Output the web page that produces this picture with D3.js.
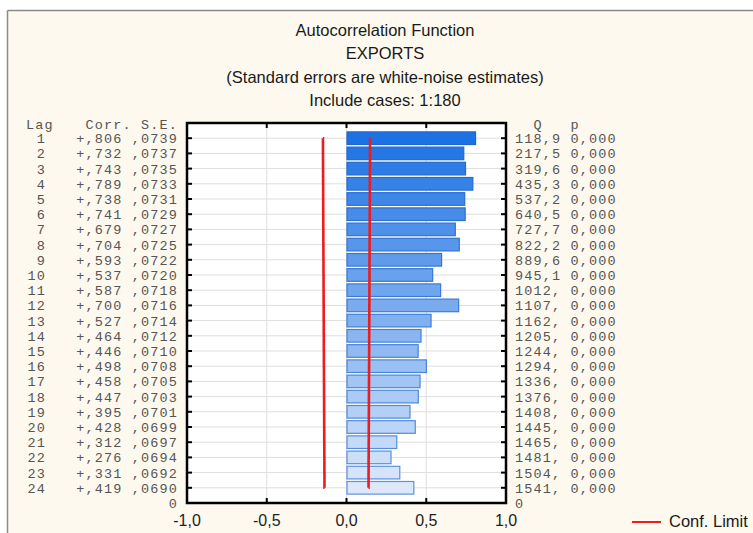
<!DOCTYPE html>
<html><head><meta charset="utf-8">
<script src="https://cdn.jsdelivr.net/npm/d3@7"></script>
<style>
html,body{margin:0;padding:0;background:#fff;}
svg{display:block;}
</style></head>
<body>
<svg id="c" width="753" height="533"></svg>
<script>
const titles = ["Autocorrelation Function","EXPORTS","(Standard errors are white-noise estimates)","Include cases: 1:180"];
const lags = [1,2,3,4,5,6,7,8,9,10,11,12,13,14,15,16,17,18,19,20,21,22,23,24];
const corr = [0.806,0.732,0.743,0.789,0.738,0.741,0.679,0.704,0.593,0.537,0.587,0.700,0.527,0.464,0.446,0.498,0.458,0.447,0.395,0.428,0.312,0.276,0.331,0.419];
const corrLabels = ["+,806","+,732","+,743","+,789","+,738","+,741","+,679","+,704","+,593","+,537","+,587","+,700","+,527","+,464","+,446","+,498","+,458","+,447","+,395","+,428","+,312","+,276","+,331","+,419"];
const se = [0.0739,0.0737,0.0735,0.0733,0.0731,0.0729,0.0727,0.0725,0.0722,0.0720,0.0718,0.0716,0.0714,0.0712,0.0710,0.0708,0.0705,0.0703,0.0701,0.0699,0.0697,0.0694,0.0692,0.0690];
const seLabels = [",0739",",0737",",0735",",0733",",0731",",0729",",0727",",0725",",0722",",0720",",0718",",0716",",0714",",0712",",0710",",0708",",0705",",0703",",0701",",0699",",0697",",0694",",0692",",0690"];
const qLabels = ["118,9","217,5","319,6","435,3","537,2","640,5","727,7","822,2","889,6","945,1","1012,","1107,","1162,","1205,","1244,","1294,","1336,","1376,","1408,","1445,","1465,","1481,","1504,","1541,"];
const pLabels = ["0,000","0,000","0,000","0,000","0,000","0,000","0,000","0,000","0,000","0,000","0,000","0,000","0,000","0,000","0,000","0,000","0,000","0,000","0,000","0,000","0,000","0,000","0,000","0,000"];
const xTicks = [-1.0,-0.5,0.0,0.5,1.0];
const xTickLabels = ["-1,0","-0,5","0,0","0,5","1,0"];
const legendLabel = "Conf. Limit";

const svg = d3.select("#c");
const W = 753, H = 533;
const mono = "'Liberation Mono','Courier New',monospace";
const sans = "'Liberation Sans',Arial,sans-serif";

// panel background & border
svg.append("rect").attr("x",0).attr("y",0).attr("width",W).attr("height",H).attr("fill","#ffffff");
svg.append("rect").attr("x",8).attr("y",10).attr("width",W).attr("height",H).attr("fill","#fdf9ee");
svg.append("line").attr("x1",7.5).attr("x2",W).attr("y1",10.5).attr("y2",10.5).attr("stroke","#8a8a8a").attr("stroke-width",1.5);
svg.append("line").attr("x1",7.5).attr("x2",7.5).attr("y1",10.5).attr("y2",H).attr("stroke","#8a8a8a").attr("stroke-width",1.5);

// titles
const titleY = [36,59,83,106];
svg.selectAll("text.title").data(titles).join("text")
  .attr("class","title").attr("x",385).attr("y",(d,i)=>titleY[i])
  .attr("text-anchor","middle").attr("font-family",sans).attr("font-size",16.5)
  .attr("fill","#1a1a1a").text(d=>d);

// scales
const x = d3.scaleLinear().domain([-1,1]).range([187,506]);
const y = d3.scaleLinear().domain([0,25]).range([503,123]);
const pos = l => y(25 - l);
const rowH = (y(0)-y(1));

// plot area
svg.append("rect").attr("x",x(-1)).attr("y",y(25)).attr("width",x(1)-x(-1)).attr("height",y(0)-y(25)).attr("fill","#ffffff");

// gridlines
svg.append("g").selectAll("line").data(lags).join("line")
  .attr("x1",x(-1)).attr("x2",x(1)).attr("y1",d=>pos(d)).attr("y2",d=>pos(d))
  .attr("stroke","#dedede").attr("stroke-width",1);
svg.append("g").selectAll("line").data([-0.5,0,0.5]).join("line")
  .attr("x1",d=>x(d)).attr("x2",d=>x(d)).attr("y1",y(25)).attr("y2",y(0))
  .attr("stroke","#dedede").attr("stroke-width",1);

// bars
const color = d3.interpolateRgb("#1d72e3","#dde9fb");
const bh = rowH*0.83;
svg.append("g").selectAll("rect").data(lags).join("rect")
  .attr("x",(d,i)=>Math.min(x(0),x(corr[i]))+0.5)
  .attr("y",d=>pos(d)-bh/2)
  .attr("width",(d,i)=>Math.abs(x(corr[i])-x(0)))
  .attr("height",bh)
  .attr("fill",(d,i)=>color(i/23))
  .attr("stroke",(d,i)=>d3.interpolateRgb("#1f66cc","#5d94df")(i/23))
  .attr("stroke-width",1.2);

// confidence limits
const stepLine = d3.line().curve(d3.curveStep);
[1,-1].forEach(s=>{
  svg.append("path")
    .attr("d",stepLine(lags.map((l,i)=>[x(s*2*se[i]),pos(l)])))
    .attr("fill","none").attr("stroke","#ee1c1c").attr("stroke-width",2.6);
});

// axes frame
const frame = svg.append("g").attr("stroke","#000").attr("fill","none");
frame.append("rect").attr("x",x(-1)).attr("y",y(25)).attr("width",x(1)-x(-1)).attr("height",y(0)-y(25)).attr("stroke-width",2.5);
// ticks
const tk = 5;
svg.append("g").selectAll("line").data(lags).join("line")
  .attr("x1",x(-1)).attr("x2",x(-1)+tk).attr("y1",d=>pos(d)).attr("y2",d=>pos(d)).attr("stroke","#000").attr("stroke-width",2);
svg.append("g").selectAll("line").data(lags).join("line")
  .attr("x1",x(1)).attr("x2",x(1)-tk).attr("y1",d=>pos(d)).attr("y2",d=>pos(d)).attr("stroke","#000").attr("stroke-width",2);
svg.append("g").selectAll("line").data([-0.5,0,0.5]).join("line")
  .attr("x1",d=>x(d)).attr("x2",d=>x(d)).attr("y1",y(25)).attr("y2",y(25)+tk).attr("stroke","#000").attr("stroke-width",2);
svg.append("g").selectAll("line").data([-0.5,0,0.5]).join("line")
  .attr("x1",d=>x(d)).attr("x2",d=>x(d)).attr("y1",y(0)).attr("y2",y(0)-tk).attr("stroke","#000").attr("stroke-width",2);

// x tick labels
svg.append("g").selectAll("text").data(xTicks).join("text")
  .attr("x",d=>x(d)).attr("y",526).attr("text-anchor","middle")
  .attr("font-family",sans).attr("font-size",16).attr("fill","#222")
  .text((d,i)=>xTickLabels[i]);

// tables
const tcol = "#555";
const fs = 13.5;
const ls = 9.25 - fs*0.6;
const left = svg.append("g").attr("font-family",mono).attr("font-size",fs).attr("fill",tcol).attr("letter-spacing",ls);
left.append("text").attr("x",26).attr("y",129).text("Lag");
left.append("text").attr("x",178).attr("y",129).attr("text-anchor","end").text("Corr. S.E.");
left.selectAll("text.lag").data(lags).join("text").attr("class","lag")
  .attr("x",46).attr("y",d=>pos(d)+5).attr("text-anchor","end").text(d=>d);
left.selectAll("text.cs").data(lags).join("text").attr("class","cs")
  .attr("x",178).attr("y",d=>pos(d)+5).attr("text-anchor","end")
  .text((d,i)=>corrLabels[i]+" "+seLabels[i]);
left.append("text").attr("x",178).attr("y",y(0)+5).attr("text-anchor","end").text("0");

const right = svg.append("g").attr("font-family",mono).attr("font-size",fs).attr("fill",tcol).attr("letter-spacing",ls);
right.append("text").attr("x",515).attr("y",129).style("white-space","pre").text("  Q   p");
right.selectAll("text.qp").data(lags).join("text").attr("class","qp")
  .attr("x",515).attr("y",d=>pos(d)+5).style("white-space","pre")
  .text((d,i)=>qLabels[i]+" "+pLabels[i]);
right.append("text").attr("x",515).attr("y",y(0)+5).text("0");

// legend
svg.append("line").attr("x1",632).attr("x2",661).attr("y1",522).attr("y2",522).attr("stroke","#ee1c1c").attr("stroke-width",2);
svg.append("text").attr("x",669).attr("y",527).attr("font-family",sans).attr("font-size",16.5).attr("fill","#1a1a1a").text(legendLabel);
</script>
</body></html>
